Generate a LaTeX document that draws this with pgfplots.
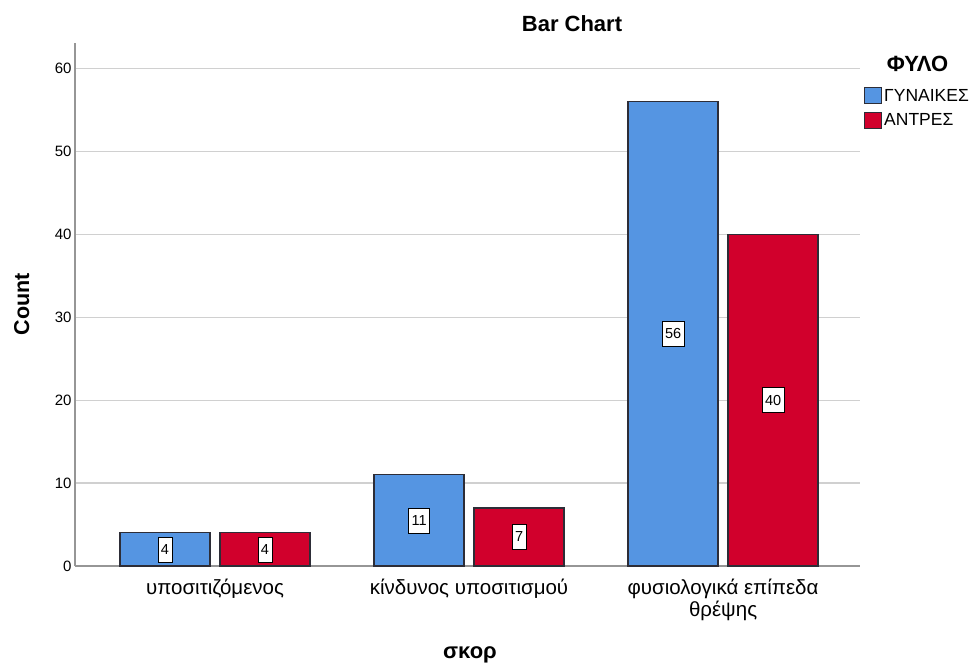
\documentclass[border=0pt]{standalone}
\usepackage{fontspec}
\setmainfont{Liberation Sans}
\usepackage{pgfplots}
\pgfplotsset{compat=1.18}

\definecolor{barblue}{RGB}{85,149,226}
\definecolor{barred}{RGB}{209,0,44}
\definecolor{gridgray}{RGB}{208,208,208}
\definecolor{axisgray}{RGB}{150,150,150}
\definecolor{edgegray}{RGB}{45,45,55}

\begin{document}
\begin{tikzpicture}
\path[use as bounding box] (0pt,0pt) rectangle (973pt,664pt);
\begin{axis}[
  at={(75pt,98pt)}, anchor=south west,
  scale only axis, width=785pt, height=523pt,
  xmin=-0.5512, xmax=2.539, ymin=0, ymax=63.1,
  axis lines*=left,
  axis line style={draw=axisgray, line width=1.5pt},
  ymajorgrids, grid style={draw=gridgray, line width=1.3pt},
  ytick={0,10,...,60},
  xtick={0,1,2},
  xticklabels={υποσιτιζόμενος, κίνδυνος υποσιτισμού, {φυσιολογικά επίπεδα\\θρέψης}},
  xticklabel style={align=center, font=\fontsize{20.5}{21.5}\selectfont, yshift=-10pt},
  yticklabel style={font=\fontsize{15}{15}\selectfont},
  /pgf/number format/assume math mode=true,
  major tick length=0pt,
  ybar, bar width=90pt,
  legend image code/.code={\draw[#1, line width=1pt] (0pt,-8pt) rectangle (17pt,8pt);},
  legend style={at={(1.0051,0.9159)}, anchor=north west, draw=none, fill=none,
    inner sep=0pt, font=\fontsize{17.5}{17.5}\selectfont, row sep=6.5pt,
    /tikz/every even column/.append style={column sep=3pt}},
  legend cell align=left,
  visualization depends on={y \as \rawy},
  nodes near coords,
  every node near coord/.append style={anchor=center,
    shift={(axis direction cs:0,-\rawy/2)},
    fill=white, draw=black, line width=0.8pt,
    font=\fontsize{14.5}{14.5}\selectfont, inner xsep=3pt, inner ysep=0pt,
    minimum height=25pt},
]
\addplot[bar shift=-50pt, fill=barblue, draw=edgegray, line width=1.2pt]
  coordinates {(0,4) (1,11) (2,56)};
\addlegendentry{ΓΥΝΑΙΚΕΣ}
\addplot[bar shift=50pt, fill=barred, draw=edgegray, line width=1.2pt]
  coordinates {(0,4) (1,7) (2,40)};
\addlegendentry{ΑΝΤΡΕΣ}
\end{axis}
\node[anchor=base, font=\bfseries\fontsize{22}{22}\selectfont] at (572pt,632pt) {Bar Chart};
\node[anchor=base, font=\bfseries\fontsize{22}{22}\selectfont] at (470pt,6pt) {σκορ};
\node[anchor=base, rotate=90, font=\bfseries\fontsize{21.5}{21.5}\selectfont] at (29pt,360pt) {Count};
\node[anchor=base, font=\bfseries\fontsize{22}{22}\selectfont] at (917.5pt,592pt) {ΦΥΛΟ};
\end{tikzpicture}
\end{document}
